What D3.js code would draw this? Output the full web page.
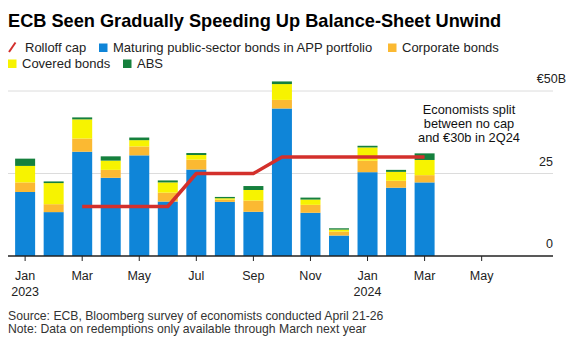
<!DOCTYPE html>
<meta charset="utf-8">
<title>ECB balance-sheet unwind</title>
<style>
body { margin: 0; background: #fff; }
svg { font-family: "Liberation Sans", Arial, sans-serif; }
</style>
<script src="https://d3js.org/d3.v7.min.js"></script>
<body>
<script>
// monthly redemptions, Jan 2023 .. Mar 2024 (EUR bn)
var months = ["2023-01","2023-02","2023-03","2023-04","2023-05","2023-06","2023-07","2023-08",
              "2023-09","2023-10","2023-11","2023-12","2024-01","2024-02","2024-03"];
var publicSector = [19.4, 13.3, 31.6, 23.7, 30.5, 16.5, 26.2, 16.4, 13.4, 44.7, 13.1, 6.2, 25.4, 20.7, 22.3];
var corporate    = [2.9, 2.4, 4.0, 2.4, 2.7, 2.7, 3.0, 0.7, 3.4, 2.6, 2.4, 1.2, 3.5, 2.1, 2.2];
var covered      = [5.0, 6.4, 5.8, 2.8, 1.9, 3.1, 1.4, 0.4, 3.2, 4.8, 1.6, 0.6, 4.0, 2.7, 4.6];
var abs          = [2.2, 0.5, 0.6, 1.3, 0.8, 0.6, 0.6, 0.4, 1.2, 0.8, 0.6, 0.4, 0.5, 0.6, 2.0];

// rolloff cap, Mar 2023 .. Mar 2024
var capMonths = ["2023-03","2023-04","2023-05","2023-06","2023-07","2023-08","2023-09",
                 "2023-10","2023-11","2023-12","2024-01","2024-02","2024-03"];
var capValues = [15, 15, 15, 15, 25, 25, 25, 30, 30, 30, 30, 30, 30];

var tickMonths = ["2023-01","2023-03","2023-05","2023-07","2023-09","2023-11","2024-01","2024-03","2024-05"];
var yTicks = [0, 25, 50];

var width = 571, height = 341;
var svg = d3.select("body").append("svg")
    .attr("width", width)
    .attr("height", height);

// month string -> index from Jan 2023
function monthIndex(m) {
  var p = m.split("-");
  return (+p[0] - 2023) * 12 + (+p[1] - 1);
}
var monthNames = ["Jan","Feb","Mar","Apr","May","Jun","Jul","Aug","Sep","Oct","Nov","Dec"];

var x = d3.scaleLinear().domain([-0.6, 18.5]).range([8, 553]);
var y = d3.scaleLinear().domain([0, 50]).range([256, 91]);
var barW = 20;

// title
svg.append("text")
  .attr("x", 8).attr("y", 27)
  .style("font-size", "18.2px")
  .style("font-weight", "bold")
  .attr("fill", "#000")
  .text("ECB Seen Gradually Speeding Up Balance-Sheet Unwind");

var colors = {
  pub: "#0f85d8",
  corp: "#fbb932",
  cov: "#f7f300",
  abs: "#15803d",
  cap: "#d3302c"
};

// legend (y = text baseline)
var legend = [
  {label: "Rolloff cap", key: "cap", x: 8, y: 52, line: true},
  {label: "Maturing public-sector bonds in APP portfolio", key: "pub", x: 99, y: 52},
  {label: "Corporate bonds", key: "corp", x: 388, y: 52},
  {label: "Covered bonds", key: "cov", x: 8, y: 68},
  {label: "ABS", key: "abs", x: 123, y: 68}
];
var lg = svg.append("g").attr("class", "legend");
legend.forEach(function(d) {
  if (d.line) {
    lg.append("line")
      .attr("x1", d.x + 1).attr("y1", d.y)
      .attr("x2", d.x + 7.5).attr("y2", d.y - 9.5)
      .attr("stroke", colors[d.key]).attr("stroke-width", 2);
  } else {
    lg.append("rect")
      .attr("x", d.x).attr("y", d.y - 8.5)
      .attr("width", 8.5).attr("height", 8.5)
      .attr("fill", colors[d.key]);
  }
  lg.append("text")
    .attr("x", d.x + (d.line ? 17 : 14)).attr("y", d.y)
    .style("font-size", "13px")
    .attr("fill", "#222")
    .text(d.label);
});

// gridlines + y labels
svg.selectAll("line.grid")
    .data(yTicks.filter(function(d) { return d > 0; }))
  .enter().append("line")
    .attr("class", "grid")
    .attr("x1", 8).attr("x2", 553)
    .attr("y1", function(d) { return y(d); })
    .attr("y2", function(d) { return y(d); })
    .attr("stroke", "#dcdcdc").attr("stroke-width", 1);

svg.selectAll("text.ylab")
    .data(yTicks)
  .enter().append("text")
    .attr("class", "ylab")
    .attr("x", function(d) { return d == 50 ? 566 : 553; })
    .attr("y", function(d) { return y(d) - 8; })
    .attr("text-anchor", "end")
    .style("font-size", "12.5px")
    .attr("fill", "#222")
    .text(function(d) { return d == 50 ? "€50B" : d; });

// stacked bars
var rows = months.map(function(m, i) {
  return {month: m, pub: publicSector[i], corp: corporate[i], cov: covered[i], abs: abs[i]};
});
var stack = d3.stack().keys(["pub", "corp", "cov", "abs"]);
var series = stack(rows);

svg.selectAll("g.layer")
    .data(series)
  .enter().append("g")
    .attr("class", "layer")
    .attr("fill", function(d) { return colors[d.key]; })
  .selectAll("rect")
    .data(function(d) { return d; })
  .enter().append("rect")
    .attr("x", function(d) { return x(monthIndex(d.data.month)) - barW / 2; })
    .attr("width", barW)
    .attr("y", function(d) { return y(d[1]); })
    .attr("height", function(d) { return y(d[0]) - y(d[1]); });

// rolloff cap line
var capLine = d3.line()
  .x(function(d, i) { return x(monthIndex(capMonths[i])); })
  .y(function(d) { return y(d); });
svg.append("path")
  .attr("d", capLine(capValues))
  .attr("fill", "none")
  .attr("stroke", colors.cap)
  .attr("stroke-width", 3.5)
  .attr("stroke-linejoin", "round");

// x axis
svg.append("line")
  .attr("x1", 8).attr("x2", 553)
  .attr("y1", 256).attr("y2", 256)
  .attr("stroke", "#222").attr("stroke-width", 1.5);

var xt = svg.selectAll("g.xtick")
    .data(tickMonths)
  .enter().append("g")
    .attr("class", "xtick")
    .attr("transform", function(d) { return "translate(" + x(monthIndex(d)) + ",0)"; });
xt.append("line")
  .attr("y1", 256).attr("y2", 261)
  .attr("stroke", "#222").attr("stroke-width", 1);
xt.append("text")
  .attr("y", 279.5)
  .attr("text-anchor", "middle")
  .style("font-size", "12.5px")
  .attr("fill", "#222")
  .text(function(d) { return monthNames[+d.split("-")[1] - 1]; });
xt.filter(function(d) { return d.split("-")[1] == "01"; })
  .append("text")
  .attr("y", 295.5)
  .attr("text-anchor", "middle")
  .style("font-size", "12.5px")
  .attr("fill", "#222")
  .text(function(d) { return d.split("-")[0]; });

// annotation
var note = ["Economists split", "between no cap", "and €30b in 2Q24"];
svg.selectAll("text.annot")
    .data(note)
  .enter().append("text")
    .attr("class", "annot")
    .attr("x", 469)
    .attr("y", function(d, i) { return 114 + i * 14; })
    .attr("text-anchor", "middle")
    .style("font-size", "12.8px")
    .attr("fill", "#111")
    .text(function(d) { return d; });

// footer
svg.append("text")
  .attr("x", 8).attr("y", 319.5)
  .style("font-size", "12.2px")
  .attr("fill", "#333")
  .text("Source: ECB, Bloomberg survey of economists conducted April 21-26");
svg.append("text")
  .attr("x", 8).attr("y", 332.5)
  .style("font-size", "12.2px")
  .attr("fill", "#333")
  .text("Note: Data on redemptions only available through March next year");
</script>
